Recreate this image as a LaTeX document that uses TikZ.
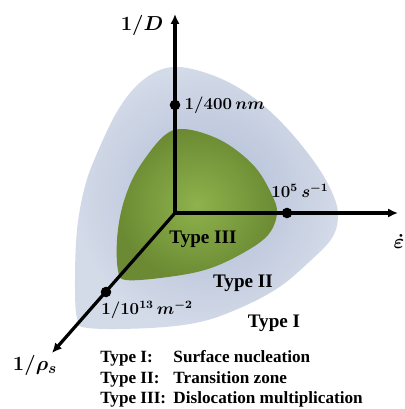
\documentclass[tikz,border=0pt]{standalone}
\usepackage{fontspec}
\setmainfont{Liberation Serif}
\usepackage{amsmath, amssymb}
\usepackage{xcolor}
\usetikzlibrary{arrows.meta, positioning}
\definecolor{azulclaro}{HTML}{D3DAE8}
\definecolor{azulmedio}{HTML}{AEBAD4}
\definecolor{verdeclaro}{HTML}{8EB24C}
\definecolor{verdeoscuro}{HTML}{6B8A33}
\tikzset{
  eje/.style={line width=2.3pt, -{Latex[length=7pt, width=6.5pt]}},
  punto/.style={circle, fill=black, inner sep=0pt, minimum size=7.5pt},
  etiq/.style={font=\fontsize{12}{14}\selectfont\boldmath, inner sep=1pt},
  ejeetiq/.style={font=\fontsize{15}{18}\selectfont\boldmath, inner sep=1pt},
  tipo/.style={font=\fontsize{13.6}{16}\selectfont\bfseries, inner sep=1pt},
}

\begin{document}
\begin{tikzpicture}[x=0.025cm, y=-0.025cm]
  \useasboundingbox (0,0) rectangle (405,409);
  % regions
  \shade[inner color=azulmedio, outer color=azulclaro]
    plot[smooth cycle, tension=0.6] coordinates {(173,67) (212,75) (250,95) (283,124) (313,160)
      (331,190) (338,214) (332,238) (308,263) (278,288) (240,308) (200,322) (150,328) (88,328)
      (77,318) (75,280) (77,230) (84,190) (95,158) (118,110) (143,80)};
  \shade[inner color=verdeclaro, outer color=verdeoscuro]
    plot[smooth cycle, tension=0.6] coordinates {(180,129) (203,133) (229,145) (255,167) (271,193)
      (277,213) (268,235) (243,253) (208,269) (168,277) (126,280) (118,270) (117,240) (122,208)
      (133,178) (149,153) (165,135)};
  % axes
  \coordinate (O) at (175,213);
  \coordinate (D) at (175,14);
  \coordinate (E) at (398,213);
  \coordinate (R) at (52,353);
  \draw[eje] (O) -- (D);
  \draw[eje] (O) -- (E);
  \draw[eje] (O) -- (R);
  \foreach \n/\p in {pd/{(175,105)}, pe/{(287,213)}, pr/{(106,292)}}
    \node[punto] (\n) at \p {};
  % labels
  \node[ejeetiq] (lD) at (142,25) {$1/D$};
  \node[ejeetiq] (lR) at (35,365) {$1/\rho_s$};
  \node[ejeetiq, anchor=west] (lE) at (392,241) {$\dot{\varepsilon}$};
  \node[etiq, anchor=west] (ld) at (183,105) {$1/400\,nm$};
  \node[etiq] (le) at (300,191) {$10^5\,s^{-1}$};
  \node[etiq] (lr) at (147,310) {$1/10^{13}\,m^{-2}$};
  \node[tipo] (t3) at (203,239) {Type III};
  \node[tipo] (t2) at (243,283) {Type II};
  \node[tipo] (t1) at (274,323) {Type I};
  \node[font=\fontsize{12.2}{14.7}\selectfont\bfseries, align=left, anchor=north west, inner sep=0pt]
    (ley) at (100,350) {\makebox[1.83cm][l]{Type I:}Surface nucleation\\
      \makebox[1.83cm][l]{Type II:}Transition zone\\
      \makebox[1.83cm][l]{Type III:}Dislocation multiplication};
\end{tikzpicture}
\end{document}
